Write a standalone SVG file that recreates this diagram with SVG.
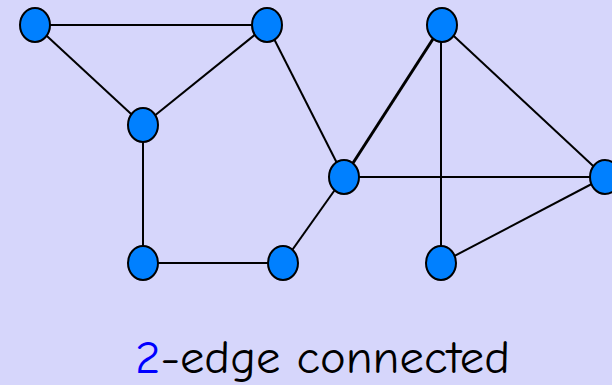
<svg xmlns="http://www.w3.org/2000/svg" width="612" height="385" viewBox="0 0 612 385">
  <style>
    .edge { stroke: #000; stroke-width: 2; fill: none; }
    .thick { stroke-width: 3; }
    .node { fill: #0080ff; stroke: #000; stroke-width: 2; }
    .label { font-family: "Comic Sans MS", "Comic Neue", "DejaVu Sans", sans-serif; font-size: 46px; fill: #000; }
  </style>
  <rect width="612" height="385" fill="#d6d6fb"/>

  <g id="edges">
    <line class="edge" x1="35" y1="25" x2="267" y2="25"/>
    <line class="edge" x1="35" y1="25" x2="143" y2="125"/>
    <line class="edge" x1="267" y1="25" x2="143" y2="125"/>
    <line class="edge" x1="267" y1="25" x2="344" y2="177"/>
    <line class="edge" x1="143" y1="125" x2="143" y2="263"/>
    <line class="edge" x1="143" y1="263" x2="283" y2="263"/>
    <line class="edge" x1="283" y1="263" x2="344" y2="177"/>
    <line class="edge thick" x1="344" y1="177" x2="442" y2="25"/>
    <line class="edge" x1="344" y1="177" x2="605" y2="177"/>
    <line class="edge" x1="441" y1="25" x2="441" y2="263"/>
    <line class="edge" x1="442" y1="25" x2="605" y2="177"/>
    <line class="edge" x1="441" y1="263" x2="605" y2="177"/>
  </g>

  <g id="n1"><ellipse class="node" cx="35" cy="25" rx="15" ry="17"/></g>
  <g id="n2"><ellipse class="node" cx="267" cy="25" rx="15" ry="17"/></g>
  <g id="n3"><ellipse class="node" cx="442" cy="25" rx="15" ry="17"/></g>
  <g id="n4"><ellipse class="node" cx="143" cy="125" rx="15" ry="17"/></g>
  <g id="n5"><ellipse class="node" cx="344" cy="177" rx="15" ry="17"/></g>
  <g id="n6"><ellipse class="node" cx="605" cy="177" rx="15" ry="17"/></g>
  <g id="n7"><ellipse class="node" cx="143" cy="263" rx="15" ry="17"/></g>
  <g id="n8"><ellipse class="node" cx="283" cy="263" rx="15" ry="17"/></g>
  <g id="n9"><ellipse class="node" cx="441" cy="263" rx="15" ry="17"/></g>

  <text class="label" x="135" y="373" textLength="375" lengthAdjust="spacingAndGlyphs"><tspan fill="#0000ff">2</tspan>-edge connected</text>
</svg>
